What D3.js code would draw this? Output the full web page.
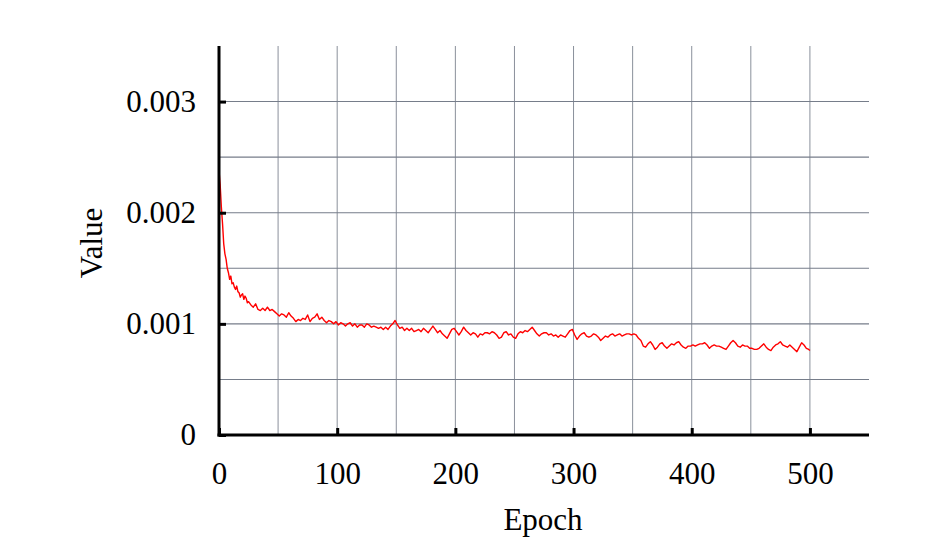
<!DOCTYPE html>
<html>
<head>
<meta charset="utf-8">
<script src="https://cdn.jsdelivr.net/npm/d3@7"></script>
<style>
  html, body { margin: 0; padding: 0; background: #ffffff; }
  svg { display: block; }
  text { font-family: "Liberation Serif", "Times New Roman", serif; fill: #000; }
</style>
</head>
<body>
<script>
// ---- data ----
const epochs = [0,1,2,3,4,5,6,7,8,9,10,11,12,13,14,15,16,17,18,19,20,21,22,23,24,25,
27,29,31,33,35,37,39,41,43,45,47,49,51,53,55,57,59,61,63,65,67,69,71,73,75,77,79,81,83,85,87,89,
91,93,95,97,99,101,103,105,107,109,111,113,115,117,119,121,123,125,127,129,131,133,135,137,139,
141,143,145,147,149,151,153,155,157,159,161,163,165,167,169,171,173,175,177,179,181,183,185,187,
189,191,193,195,197,199,201,203,205,207,209,211,213,215,217,219,221,223,225,227,229,231,233,235,
237,239,241,243,245,247,249,251,253,255,257,259,261,263,265,267,269,271,273,275,277,279,281,283,
285,287,289,291,293,295,297,299,301,303,305,307,309,311,313,315,317,319,321,323,325,327,329,331,
333,335,337,339,341,343,345,347,349,351,353,355,357,359,361,363,365,367,369,371,373,375,377,379,
381,383,385,387,389,391,393,395,397,399,401,403,405,407,409,411,413,415,417,419,421,423,425,427,
429,431,433,435,437,439,441,443,445,447,449,451,453,455,457,459,461,463,465,467,469,471,473,475,
477,479,481,483,485,487,489,491,493,495,497,499,500];

const values = [0.00238,0.00225,0.00205,0.00190,0.00172,0.00163,0.00158,0.00150,0.00146,0.00140,
0.00143,0.00136,0.00137,0.00133,0.00131,0.00134,0.00129,0.00128,0.00124,0.00126,0.00127,0.00122,
0.00125,0.00123,0.00119,0.00120,
0.00117,0.00115,0.00118,0.00113,0.00112,0.00114,0.00112,0.00115,0.00112,0.00113,0.00111,0.00109,
0.00107,0.00109,0.00108,0.00106,0.00110,0.00107,0.00105,0.00102,0.00104,0.00103,0.00105,0.00104,
0.00108,0.00102,0.00105,0.00106,0.00109,0.00104,0.00106,0.00103,
0.00101,0.00103,0.00102,0.00100,0.00102,0.00099,0.00101,0.00100,0.00098,0.00100,0.00101,0.00098,
0.00100,0.00097,0.00099,0.00099,0.00097,0.00100,0.00099,0.00097,0.00098,0.00097,0.00096,0.00097,0.00095,
0.00097,0.00095,0.00098,0.00100,0.00103,0.00099,0.00096,0.00097,0.00094,0.00096,0.00094,0.00096,
0.00093,0.00094,0.00095,0.00093,0.00096,0.00094,0.00092,0.00095,0.00098,0.00095,0.00092,0.00094,
0.00091,0.00089,0.00087,0.00091,0.00095,0.00096,0.00093,0.00090,0.00093,0.00097,0.00094,0.00092,
0.00090,0.00092,0.00091,0.00088,0.00091,0.00090,0.00092,0.00092,0.00091,0.00093,0.00092,0.00090,
0.00087,0.00088,0.00092,0.00093,0.00090,0.00091,0.00088,0.00087,0.00091,0.00093,0.00092,0.00094,
0.00093,0.00095,0.00097,0.00094,0.00091,0.00089,0.00091,0.00092,0.00092,0.00090,0.00091,0.00089,
0.00090,0.00088,0.00090,0.00089,0.00088,0.00091,0.00094,0.00095,0.00090,0.00086,0.00089,0.00091,
0.00092,0.00089,0.00088,0.00089,0.00091,0.00090,0.00088,0.00085,0.00087,0.00089,0.00088,0.00090,
0.00091,0.00089,0.00090,0.00091,0.00089,0.00090,0.00091,0.00091,0.00090,0.00091,0.00090,0.00087,
0.00085,0.00080,0.00079,0.00082,0.00084,0.00081,0.00077,0.00079,0.00082,0.00083,0.00080,0.00078,
0.00080,0.00082,0.00081,0.00083,0.00084,0.00081,0.00079,0.00078,0.00080,0.00080,0.00081,0.00080,
0.00081,0.00082,0.00082,0.00083,0.00081,0.00078,0.00080,0.00081,0.00080,0.00080,0.00079,0.00078,
0.00077,0.00080,0.00083,0.00085,0.00083,0.00080,0.00079,0.00081,0.00080,0.00080,0.00078,0.00078,
0.00077,0.00077,0.00078,0.00080,0.00082,0.00079,0.00077,0.00076,0.00079,0.00081,0.00082,0.00084,
0.00081,0.00080,0.00079,0.00081,0.00079,0.00077,0.00075,0.00079,0.00083,0.00081,0.00078,0.00077,0.00076];

const xTickValues = [0, 100, 200, 300, 400, 500];
const xGridValues = [50, 100, 150, 200, 250, 300, 350, 400, 450, 500];
const yTickValues = [0, 0.001, 0.002, 0.003];
const yTickLabels = ["0", "0.001", "0.002", "0.003"];
const yGridValues = [0.0005, 0.001, 0.0015, 0.002, 0.0025, 0.003];
const xTitle = "Epoch";
const yTitle = "Value";

// ---- layout ----
const W = 945, H = 542;
const mLeft = 219, mTop = 46, mRight = 869, mBottom = 435;
const FS = 31;

const svg = d3.select("body").append("svg").attr("width", W).attr("height", H);

const x = d3.scaleLinear().domain([0, 550]).range([mLeft, mRight]);
const y = d3.scaleLinear().domain([0, 0.0035]).range([mBottom, mTop]);

// grid
svg.append("g").selectAll("line").data(xGridValues).join("line")
  .attr("x1", d => x(d)).attr("x2", d => x(d))
  .attr("y1", mTop).attr("y2", mBottom)
  .attr("stroke", "#8a909b").attr("stroke-width", 1);
svg.append("g").selectAll("line").data(yGridValues).join("line")
  .attr("x1", mLeft).attr("x2", mRight)
  .attr("y1", d => y(d)).attr("y2", d => y(d))
  .attr("stroke", "#767d8a").attr("stroke-width", 1.1);

// line
const pts = epochs.map((e, i) => [e, values[i]]);
svg.append("path").datum(pts)
  .attr("fill", "none").attr("stroke", "#ff0000").attr("stroke-width", 1.4)
  .attr("stroke-linejoin", "round")
  .attr("d", d3.line().x(d => x(d[0])).y(d => y(d[1])));

// axes
const yAxis = d3.axisLeft(y).tickValues(yTickValues).tickSize(-7)
  .tickFormat((d, i) => yTickLabels[i]).tickPadding(23);
const gy = svg.append("g").attr("transform", `translate(${mLeft},0)`).call(yAxis);
gy.select(".domain").remove();
gy.selectAll(".tick line").attr("stroke", "#000").attr("stroke-width", 3);
gy.selectAll(".tick text").attr("font-size", FS).attr("font-family", "Liberation Serif");

const xAxis = d3.axisBottom(x).tickValues(xTickValues).tickSize(-7).tickPadding(27)
  .tickFormat(d3.format("d"));
const gx = svg.append("g").attr("transform", `translate(0,${mBottom})`).call(xAxis);
gx.select(".domain").remove();
gx.selectAll(".tick line").attr("stroke", "#000").attr("stroke-width", 3);
gx.selectAll(".tick text").attr("font-size", FS).attr("font-family", "Liberation Serif");

// axis lines
svg.append("line").attr("x1", mLeft).attr("x2", mLeft).attr("y1", mTop).attr("y2", mBottom + 1.5)
  .attr("stroke", "#000").attr("stroke-width", 3);
svg.append("line").attr("x1", mLeft - 1.5).attr("x2", mRight).attr("y1", mBottom).attr("y2", mBottom)
  .attr("stroke", "#000").attr("stroke-width", 3);

// titles
svg.append("text").attr("x", (mLeft + mRight) / 2 - 1).attr("y", 530)
  .attr("text-anchor", "middle").attr("font-size", FS).text(xTitle);
svg.append("text").attr("transform", "translate(102,243) rotate(-90)")
  .attr("text-anchor", "middle").attr("font-size", FS).text(yTitle);
</script>
</body>
</html>
